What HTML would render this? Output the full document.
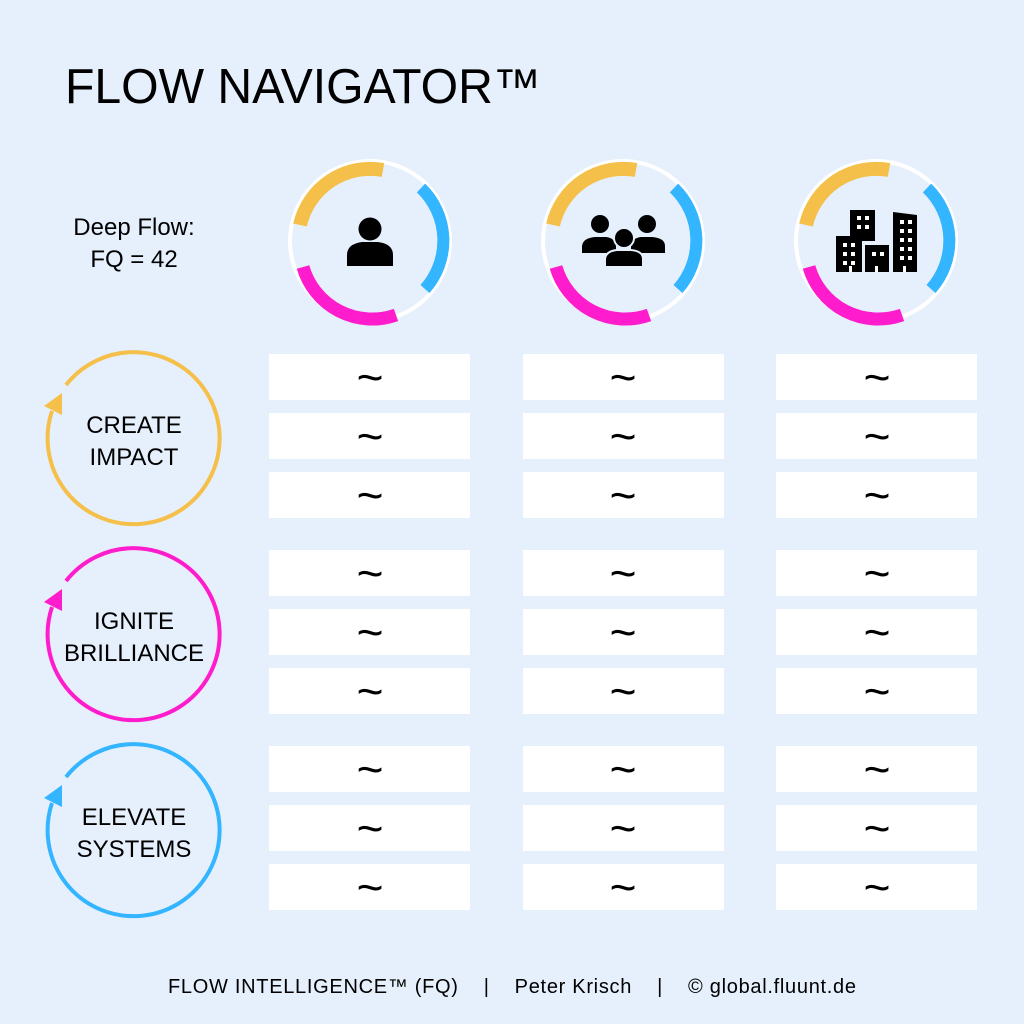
<!DOCTYPE html>
<html><head><meta charset="utf-8"><style>
html,body{margin:0;padding:0;background:#e6effc;}
svg{display:block}
text{font-family:"Liberation Sans",Arial,sans-serif;fill:#000}
</style></head><body>
<svg width="1024" height="1024" viewBox="0 0 1024 1024" xmlns="http://www.w3.org/2000/svg">
<rect width="1024" height="1024" fill="#e6effc"/>
<text x="65" y="103" font-size="49" textLength="476" lengthAdjust="spacingAndGlyphs">FLOW NAVIGATOR™</text>
<text x="134" y="235" font-size="24" text-anchor="middle">Deep Flow:</text>
<text x="134" y="267" font-size="24" text-anchor="middle">FQ = 42</text>

<defs>
<g id="ring">
 <circle cx="0" cy="0" r="80" fill="none" stroke="#fff" stroke-width="4"/>
 <path d="M13,-71 A72,72 0 0 0 -70,-16" fill="none" stroke="#f5c04a" stroke-width="14"/>
 <path d="M51,-53 A73,73 0 0 1 55,48" fill="none" stroke="#33b5ff" stroke-width="12"/>
 <path d="M-67,26 A72,72 0 0 0 26,74" fill="none" stroke="#fe1ccd" stroke-width="13"/>
</g>
</defs>
<use href="#ring" x="370" y="241"/>
<use href="#ring" x="623" y="241"/>
<use href="#ring" x="876" y="241"/>

<circle cx="370" cy="229" r="11.5" fill="#000"/>
<path d="M347,266 L347,255 Q347,244 362,242 L378,242 Q393,244 393,255 L393,266 Z" fill="#000"/>
<circle cx="600" cy="224" r="9" fill="#000"/>
<circle cx="647" cy="224" r="9" fill="#000"/>
<path d="M582,253 L582,246 Q583,238 595,237 L606,237 Q615,238 616,246 L616,253 Z" fill="#000"/>
<path d="M631,253 L631,246 Q632,238 641,237 L652,237 Q665,238 665,246 L665,253 Z" fill="#000"/>
<circle cx="624" cy="238" r="10" stroke="#e6effc" stroke-width="2" fill="#000"/>
<path d="M605,267 L605,259 Q606,251 617,250 L631,250 Q643,251 643,259 L643,267 Z" stroke="#e6effc" stroke-width="2" fill="#000"/>
<g fill="#000">
<rect x="850" y="210" width="25" height="31"/>
<rect x="836" y="236" width="26" height="36"/>
<rect x="865" y="245" width="24" height="27"/>
<path d="M893,212 L917,215 L917,272 L893,272 Z"/>
</g>
<g fill="#fff">
<rect x="857" y="216" width="4" height="4"/><rect x="865" y="216" width="4" height="4"/>
<rect x="857" y="225" width="4" height="4"/><rect x="865" y="225" width="4" height="4"/>
<rect x="843" y="243" width="4" height="4"/><rect x="851" y="243" width="4" height="4"/>
<rect x="843" y="252" width="4" height="4"/><rect x="851" y="252" width="4" height="4"/>
<rect x="843" y="261" width="4" height="4"/><rect x="851" y="261" width="4" height="4"/>
<rect x="872" y="252" width="4" height="4"/><rect x="880" y="252" width="4" height="4"/>
<rect x="900" y="220" width="4" height="4"/><rect x="908" y="220" width="4" height="4"/>
<rect x="900" y="229" width="4" height="4"/><rect x="908" y="229" width="4" height="4"/>
<rect x="900" y="238" width="4" height="4"/><rect x="908" y="238" width="4" height="4"/>
<rect x="900" y="247" width="4" height="4"/><rect x="908" y="247" width="4" height="4"/>
<rect x="900" y="256" width="4" height="4"/><rect x="908" y="256" width="4" height="4"/>
<rect x="849" y="266" width="3" height="6"/><rect x="875" y="266" width="3" height="6"/><rect x="903" y="266" width="3" height="6"/>
</g>

<g fill="none" stroke-width="4">
<path d="M66,385 A86,86 0 1 1 52,411" stroke="#f5c04a"/>
<path d="M66,581 A86,86 0 1 1 52,607" stroke="#fe1ccd"/>
<path d="M66,777 A86,86 0 1 1 52,803" stroke="#33b5ff"/>
</g>
<polygon points="44,406 62,393 62,415" fill="#f5c04a"/>
<polygon points="44,602 62,589 62,611" fill="#fe1ccd"/>
<polygon points="44,798 62,785 62,807" fill="#33b5ff"/>
<g font-size="24" text-anchor="middle">
<text x="134" y="433">CREATE</text><text x="134" y="465">IMPACT</text>
<text x="134" y="629">IGNITE</text><text x="134" y="661">BRILLIANCE</text>
<text x="134" y="825">ELEVATE</text><text x="134" y="857">SYSTEMS</text>
</g>

<g fill="#fff">
<rect x="269" y="354" width="201" height="46"/><rect x="523" y="354" width="201" height="46"/><rect x="776" y="354" width="201" height="46"/>
<rect x="269" y="413" width="201" height="46"/><rect x="523" y="413" width="201" height="46"/><rect x="776" y="413" width="201" height="46"/>
<rect x="269" y="472" width="201" height="46"/><rect x="523" y="472" width="201" height="46"/><rect x="776" y="472" width="201" height="46"/>
<rect x="269" y="550" width="201" height="46"/><rect x="523" y="550" width="201" height="46"/><rect x="776" y="550" width="201" height="46"/>
<rect x="269" y="609" width="201" height="46"/><rect x="523" y="609" width="201" height="46"/><rect x="776" y="609" width="201" height="46"/>
<rect x="269" y="668" width="201" height="46"/><rect x="523" y="668" width="201" height="46"/><rect x="776" y="668" width="201" height="46"/>
<rect x="269" y="746" width="201" height="46"/><rect x="523" y="746" width="201" height="46"/><rect x="776" y="746" width="201" height="46"/>
<rect x="269" y="805" width="201" height="46"/><rect x="523" y="805" width="201" height="46"/><rect x="776" y="805" width="201" height="46"/>
<rect x="269" y="864" width="201" height="46"/><rect x="523" y="864" width="201" height="46"/><rect x="776" y="864" width="201" height="46"/>
</g>
<g font-size="46" text-anchor="middle">
<text x="370" y="393">~</text><text x="623" y="393">~</text><text x="877" y="393">~</text>
<text x="370" y="452">~</text><text x="623" y="452">~</text><text x="877" y="452">~</text>
<text x="370" y="511">~</text><text x="623" y="511">~</text><text x="877" y="511">~</text>
<text x="370" y="589">~</text><text x="623" y="589">~</text><text x="877" y="589">~</text>
<text x="370" y="648">~</text><text x="623" y="648">~</text><text x="877" y="648">~</text>
<text x="370" y="707">~</text><text x="623" y="707">~</text><text x="877" y="707">~</text>
<text x="370" y="785">~</text><text x="623" y="785">~</text><text x="877" y="785">~</text>
<text x="370" y="844">~</text><text x="623" y="844">~</text><text x="877" y="844">~</text>
<text x="370" y="903">~</text><text x="623" y="903">~</text><text x="877" y="903">~</text>
</g>

<text x="168" y="993" font-size="20" textLength="688" lengthAdjust="spacing" xml:space="preserve">FLOW INTELLIGENCE™ (FQ)    |    Peter Krisch    |    © global.fluunt.de</text>
</svg>
</body></html>
